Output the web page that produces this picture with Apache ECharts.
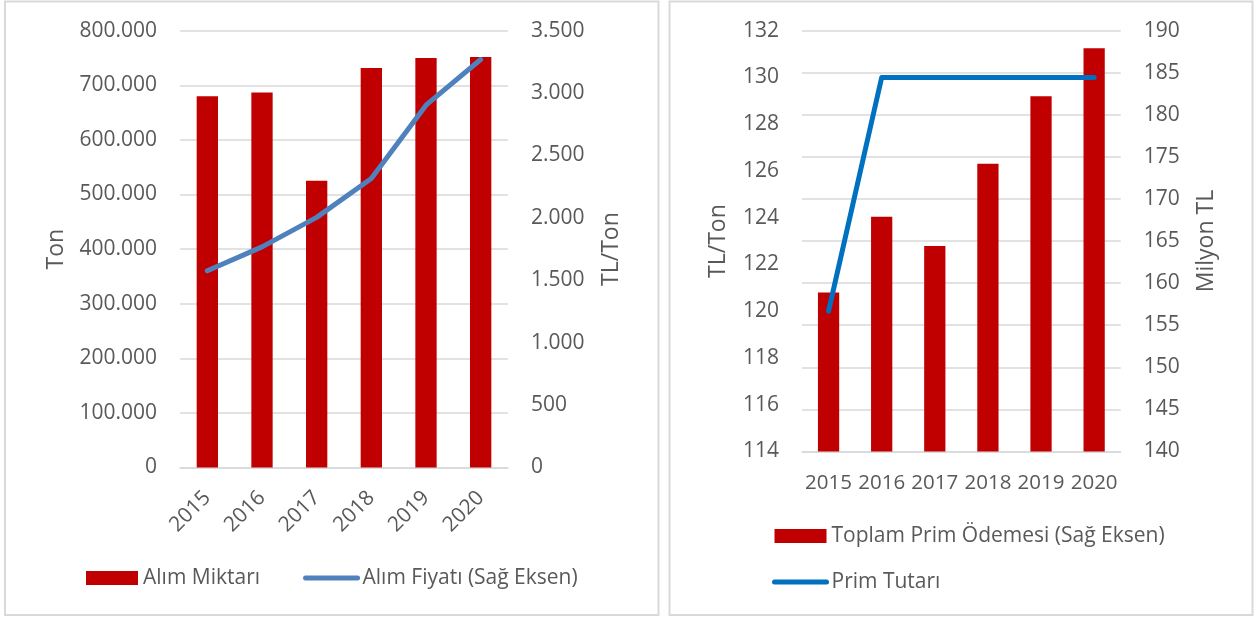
<!DOCTYPE html>
<html>
<head>
<meta charset="utf-8">
<script src="https://cdn.jsdelivr.net/npm/echarts@6/dist/echarts.min.js"></script>
<style>
  html, body { margin: 0; padding: 0; background: #ffffff; }
  #chart { width: 1258px; height: 617px; }
</style>
</head>
<body>
<div id="chart"></div>
<script>
// Years shared by both panels
const years = ['2015', '2016', '2017', '2018', '2019', '2020'];

// Left panel: purchase quantity (ton) and purchase price (TL/ton, right axis)
const alimMiktari = [680000, 687000, 525000, 731500, 750000, 752000];
const alimFiyati = [1576, 1768, 2004, 2316, 2903, 3269];

// Right panel: premium per ton (TL/ton) and total premium payment (million TL, right axis)
const primTutari = [120, 130, 130, 130, 130, 130];
const toplamPrimOdemesi = [158.9, 167.9, 164.4, 174.2, 182.2, 187.9];

const FONT = '"Open Sans", "Noto Sans", sans-serif';
const TEXT = '#595959';
const GRID_LINE = '#d9d9d9';

// Turkish-style thousands separator: 800000 -> 800.000
function trNumber(v) {
  return String(v).replace(/\B(?=(\d{3})+(?!\d))/g, '.');
}

const axisLabel = { color: TEXT, fontSize: 21, fontFamily: FONT, margin: 23 };
const nameStyle = { color: TEXT, fontSize: 23, fontFamily: FONT };
const legendText = { color: TEXT, fontSize: 21, fontFamily: FONT, lineHeight: 24 };

const chart = echarts.init(document.getElementById('chart'), null, { renderer: 'canvas' });

chart.setOption({
  animation: false,
  backgroundColor: '#ffffff',
  textStyle: { fontFamily: FONT },
  graphic: [
    { type: 'rect', shape: { x: 5, y: 1.5, width: 653.5, height: 613.5 },
      style: { fill: 'none', stroke: GRID_LINE, lineWidth: 2 }, silent: true },
    { type: 'rect', shape: { x: 669.5, y: 1.5, width: 583, height: 613.5 },
      style: { fill: 'none', stroke: GRID_LINE, lineWidth: 2 }, silent: true }
  ],
  grid: [
    { left: 180, right: 750, top: 30.7, bottom: 149.5 },
    { left: 802, right: 137.3, top: 30.7, bottom: 165.6 }
  ],
  legend: [
    {
      left: 86, top: 566, padding: 0, itemWidth: 52, itemHeight: 14, itemGap: 43,
      textStyle: legendText,
      data: [
        { name: 'Alım Miktarı', icon: 'rect' },
        { name: 'Alım Fiyatı (Sağ Eksen)', itemStyle: { opacity: 0 },
          lineStyle: { width: 5, cap: 'round' } }
      ]
    },
    {
      left: 772, top: 524, padding: 0, orient: 'vertical', itemWidth: 52, itemHeight: 14, itemGap: 22,
      textStyle: legendText,
      data: [
        { name: 'Toplam Prim Ödemesi (Sağ Eksen)', icon: 'rect' },
        { name: 'Prim Tutarı', itemStyle: { opacity: 0 },
          lineStyle: { width: 5, cap: 'round' } }
      ]
    }
  ],
  xAxis: [
    {
      type: 'category', gridIndex: 0, data: years,
      axisLine: { lineStyle: { color: GRID_LINE, width: 1.5 } },
      axisTick: { length: 6, lineStyle: { color: GRID_LINE, width: 1.5 } },
      axisLabel: { color: TEXT, fontSize: 21, fontFamily: FONT, rotate: 45, margin: 27, interval: 0 }
    },
    {
      type: 'category', gridIndex: 1, data: years,
      axisLine: { lineStyle: { color: GRID_LINE, width: 1.5 } },
      axisTick: { length: 6, lineStyle: { color: GRID_LINE, width: 1.5 } },
      axisLabel: { color: TEXT, fontSize: 20.5, fontFamily: FONT, margin: 21, interval: 0, hideOverlap: false }
    }
  ],
  yAxis: [
    {
      type: 'value', gridIndex: 0, position: 'left', min: 0, max: 800000, interval: 100000,
      name: 'Ton', nameLocation: 'middle', nameGap: 112, nameTextStyle: nameStyle,
      axisLine: { show: false }, axisTick: { show: false },
      axisLabel: Object.assign({}, axisLabel, { formatter: trNumber }),
      splitLine: { lineStyle: { color: GRID_LINE, width: 1.5 } }
    },
    {
      type: 'value', gridIndex: 0, position: 'right', min: 0, max: 3500, interval: 500,
      name: 'TL/Ton', nameLocation: 'middle', nameGap: 92, nameTextStyle: nameStyle,
      axisLine: { show: false }, axisTick: { show: false },
      axisLabel: Object.assign({}, axisLabel, { formatter: trNumber }),
      splitLine: { show: false }
    },
    {
      type: 'value', gridIndex: 1, position: 'left', min: 114, max: 132, interval: 2,
      name: 'TL/Ton', nameLocation: 'middle', nameGap: 72, nameTextStyle: nameStyle,
      axisLine: { show: false }, axisTick: { show: false },
      axisLabel: axisLabel,
      splitLine: { show: false }
    },
    {
      type: 'value', gridIndex: 1, position: 'right', min: 140, max: 190, interval: 5,
      name: 'Milyon TL', nameLocation: 'middle', nameGap: 74, nameTextStyle: nameStyle,
      axisLine: { show: false }, axisTick: { show: false },
      axisLabel: axisLabel,
      splitLine: { lineStyle: { color: GRID_LINE, width: 1.5 } }
    }
  ],
  series: [
    {
      name: 'Alım Miktarı', type: 'bar', xAxisIndex: 0, yAxisIndex: 0,
      data: alimMiktari, barWidth: '39%',
      itemStyle: { color: '#c00000' }
    },
    {
      name: 'Alım Fiyatı (Sağ Eksen)', type: 'line', xAxisIndex: 0, yAxisIndex: 1,
      data: alimFiyati, showSymbol: false, symbol: 'none',
      lineStyle: { color: '#4f81bd', width: 5, cap: 'round', join: 'round' },
      itemStyle: { color: '#4f81bd' }
    },
    {
      name: 'Toplam Prim Ödemesi (Sağ Eksen)', type: 'bar', xAxisIndex: 1, yAxisIndex: 3,
      data: toplamPrimOdemesi, barWidth: '40%',
      itemStyle: { color: '#c00000' }
    },
    {
      name: 'Prim Tutarı', type: 'line', xAxisIndex: 1, yAxisIndex: 2,
      data: primTutari, showSymbol: false, symbol: 'none',
      lineStyle: { color: '#0070c0', width: 5, cap: 'round', join: 'round' },
      itemStyle: { color: '#0070c0' }
    }
  ]
});
</script>
</body>
</html>
